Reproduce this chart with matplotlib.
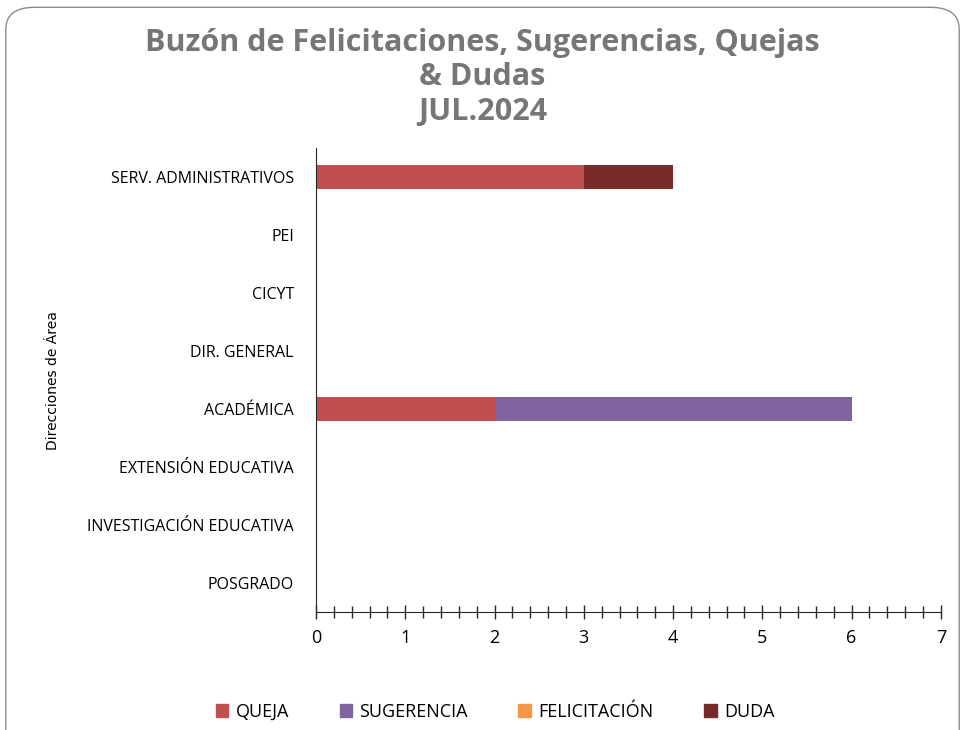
import matplotlib
matplotlib.use('Agg')
import matplotlib.pyplot as plt
import matplotlib.patches as mpatches
from matplotlib.ticker import MultipleLocator
import numpy as np

# ── Data ────────────────────────────────────────────────────────────────────
areas = ["POSGRADO", "INVESTIGACIÓN EDUCATIVA", "EXTENSIÓN EDUCATIVA",
         "ACADÉMICA", "DIR. GENERAL", "CICYT", "PEI", "SERV. ADMINISTRATIVOS"]
queja        = [0, 0, 0, 2, 0, 0, 0, 3]
sugerencia   = [0, 0, 0, 4, 0, 0, 0, 0]
felicitacion = [0, 0, 0, 0, 0, 0, 0, 0]
duda         = [0, 0, 0, 0, 0, 0, 0, 1]

series_names = ["QUEJA", "SUGERENCIA", "FELICITACIÓN", "DUDA"]
series_colors = ["#C0504D", "#8064A2", "#F79646", "#772C2A"]

FONT = "Open Sans"

fig = plt.figure(figsize=(9.65, 7.3), dpi=100)
fig.patch.set_facecolor("white")

# rounded chart frame (outline only)
frame = mpatches.FancyBboxPatch((0.006, -0.05), 0.988, 1.04,
                                boxstyle="round,pad=0,rounding_size=0.03",
                                transform=fig.transFigure, facecolor="none",
                                edgecolor="#8c8c8c", linewidth=1.0, zorder=-1)
fig.patches.append(frame)

ax = fig.add_axes([0.3275, 0.1616, 0.6475, 0.6355])
ax.patch.set_alpha(0)

y = np.arange(len(areas))
left = np.zeros(len(areas))
for name, vals, col in zip(series_names, [queja, sugerencia, felicitacion, duda], series_colors):
    vals = np.array(vals, dtype=float)
    ax.barh(y, vals, left=left, height=0.41, color=col, label=name)
    left += vals

ax.set_ylim(-0.5, len(areas) - 0.5)
ax.set_xlim(0, 7)
ax.set_yticks(y)
ax.set_yticklabels(areas, fontsize=11.5, color="black", fontfamily=FONT)
ax.tick_params(axis="y", length=0, pad=16)
ax.xaxis.set_major_locator(MultipleLocator(1))
ax.xaxis.set_minor_locator(MultipleLocator(0.2))
ax.tick_params(axis="x", which="major", direction="inout", length=10, width=1,
               color="#262626", labelsize=13, labelcolor="black", pad=7)
ax.tick_params(axis="x", which="minor", direction="inout", length=8, width=1,
               color="#262626")
for lbl in ax.get_xticklabels():
    lbl.set_fontfamily(FONT)

for s in ["top", "right"]:
    ax.spines[s].set_visible(False)
ax.spines["left"].set_color("#262626")
ax.spines["bottom"].set_color("#262626")

ax.set_ylabel("Direcciones de Área", fontsize=10, fontfamily="Liberation Sans Narrow",
              color="black")
ax.yaxis.set_label_coords(-0.41, 0.5)

fig.text(0.5, 0.962, "Buzón de Felicitaciones, Sugerencias, Quejas\n& Dudas\nJUL.2024",
         ha="center", va="top", fontsize=22, fontweight="bold", color="#767676",
         fontfamily=FONT, linespacing=1.2)

handles = [mpatches.Patch(color=c, label=n) for n, c in zip(series_names, series_colors)]
fig.legend(handles=handles, loc="center", bbox_to_anchor=(0.513, 0.025), ncol=4,
           frameon=False, prop={"family": FONT, "size": 13}, handlelength=0.7,
           handleheight=0.7, handletextpad=0.4, columnspacing=2.8)

fig.savefig("out.png", dpi=100, facecolor="white")
